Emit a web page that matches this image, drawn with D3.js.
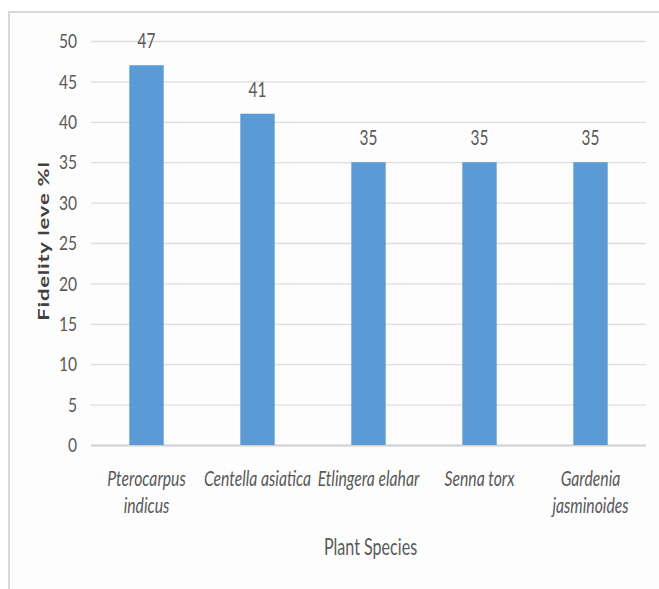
<!DOCTYPE html>
<html>
<head>
<meta charset="utf-8">
<script src="https://cdn.jsdelivr.net/npm/d3@7"></script>
<style>
  html, body { margin: 0; padding: 0; background: #ffffff; }
  svg { display: block; }
  text { font-family: Lato, "Open Sans", "Liberation Sans", sans-serif; fill: #595959; }
</style>
</head>
<body>
<svg id="chart" width="659" height="589"></svg>
<script>
// Fidelity level (%) of the top medicinal plant species
const categories = ["Pterocarpus indicus", "Centella asiatica", "Etlingera elahar", "Senna torx", "Gardenia jasminoides"];
const categoryLines = [["Pterocarpus", "indicus"], ["Centella asiatica"], ["Etlingera elahar"], ["Senna torx"], ["Gardenia", "jasminoides"]];
const fidelity = [47, 41, 35, 35, 35];
const yTicks = [0, 5, 10, 15, 20, 25, 30, 35, 40, 45, 50];
const xTitle = "Plant Species";
const yTitle = "Fidelity leve %l";

const svg = d3.select("#chart");
const W = 659, H = 589;
const plot = { left: 91, right: 646, top: 41, bottom: 445 };

// chart frame
svg.append("rect")
  .attr("x", 9).attr("y", 12).attr("width", W - 9).attr("height", H - 12)
  .attr("fill", "#fdfdfd");
svg.append("path")
  .attr("d", `M9,${H} L9,12 L${W},12`)
  .attr("fill", "none").attr("stroke", "#d9d9d9").attr("stroke-width", 2);

const x = d3.scaleBand()
  .domain(categories)
  .range([plot.left, plot.right])
  .paddingInner(0.69)
  .paddingOuter(0.345);

const y = d3.scaleLinear().domain([0, 50]).range([plot.bottom, plot.top]);

// gridlines and value axis
const yAxis = svg.append("g")
  .attr("transform", `translate(${plot.left},0)`)
  .call(d3.axisLeft(y).tickValues(yTicks).tickSize(-(plot.right - plot.left)).tickPadding(0));
yAxis.select(".domain").remove();
yAxis.selectAll(".tick line")
  .attr("stroke", d => d === 0 ? "#d0d0d0" : "#dedede")
  .attr("stroke-width", d => d === 0 ? 2 : 1.3);
yAxis.selectAll(".tick text")
  .attr("x", 0)
  .attr("dy", "0.34em")
  .attr("transform", "translate(-14,0) scale(0.8,1)")
  .style("font-size", "19.5px")
  .style("fill", "#595959");

// bars
svg.append("g").selectAll("rect")
  .data(fidelity)
  .join("rect")
  .attr("x", (d, i) => x(categories[i]))
  .attr("y", d => y(d))
  .attr("width", x.bandwidth())
  .attr("height", d => y(0) - y(d))
  .attr("fill", "#5b9bd5");

// value labels
svg.append("g").selectAll("text")
  .data(fidelity)
  .join("text")
  .attr("transform", (d, i) => `translate(${x(categories[i]) + x.bandwidth() / 2},${y(d) - 17}) scale(0.7,1)`)
  .attr("text-anchor", "middle")
  .style("font-size", "22px")
  .text(d => d);

// category labels
const catG = svg.append("g").selectAll("g")
  .data(categories)
  .join("g")
  .attr("transform", d => `translate(${x(d) + x.bandwidth() / 2},0)`);
catG.each(function(d, i) {
  d3.select(this).selectAll("text")
    .data(categoryLines[i])
    .join("text")
    .attr("transform", (t, j) => `translate(0,${486 + j * 27}) scale(0.75,1)`)
    .attr("text-anchor", "middle")
    .style("font-size", "21px")
    .style("font-style", "italic")
    .text(t => t);
});

// axis titles
svg.append("text")
  .attr("transform", `translate(${(plot.left + plot.right) / 2 + 2},555) scale(0.7,1)`)
  .attr("text-anchor", "middle")
  .style("font-size", "23px")
  .text(xTitle);

svg.append("text")
  .attr("transform", "translate(49,241) scale(0.68,1) rotate(-90)")
  .attr("text-anchor", "middle")
  .style("font-size", "22px")
  .style("font-weight", "bold")
  .style("letter-spacing", "0.8px")
  .style("fill", "#404040")
  .text(yTitle);
</script>
</body>
</html>
